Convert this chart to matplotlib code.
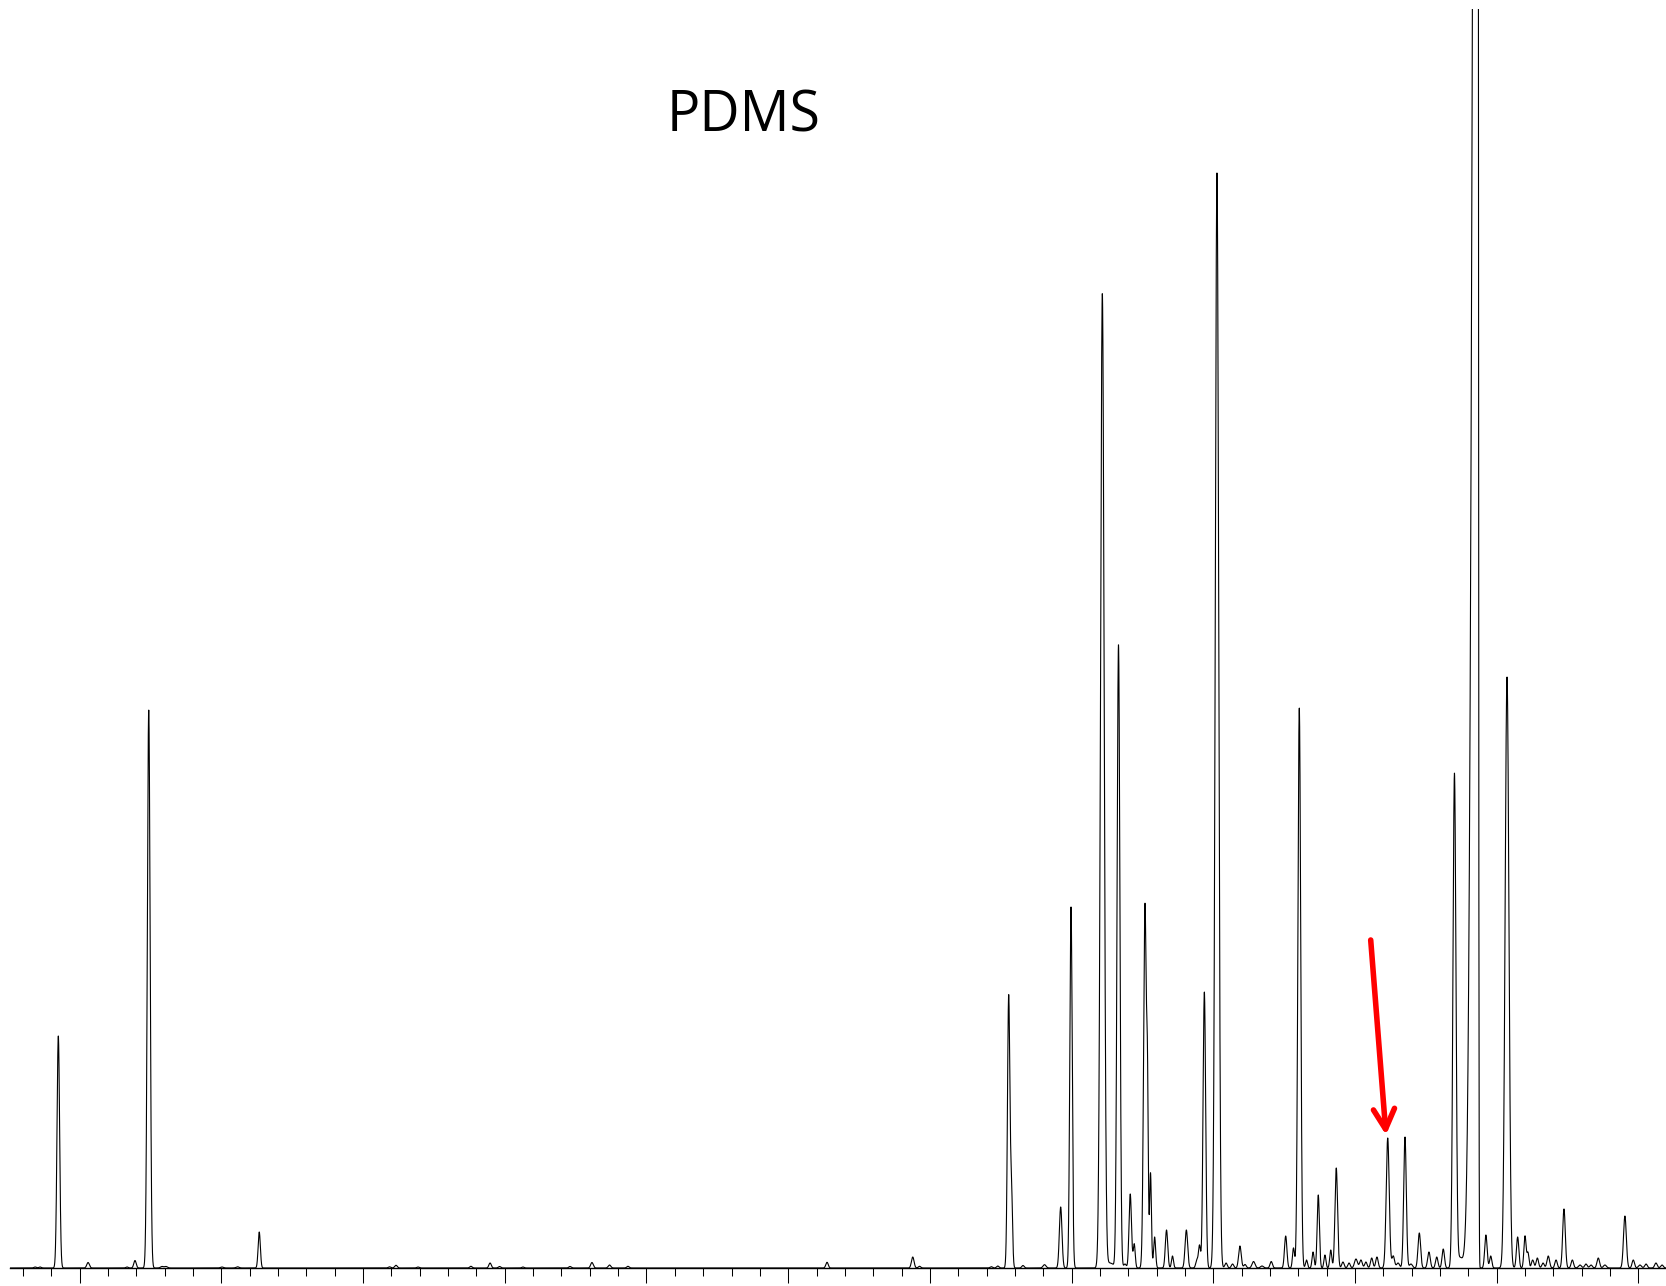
import numpy as np
import matplotlib
matplotlib.use("Agg")
import matplotlib.pyplot as plt
from matplotlib.ticker import MultipleLocator, NullFormatter

# ---- data (retention time in min, abundance in arbitrary units) ----
peak_rt = [0.685, 0.720, 0.849, 1.059, 1.334, 1.390, 1.487, 1.581, 1.609, 2.004,
           2.114, 2.267, 3.186, 3.232, 3.387, 3.761, 3.896, 3.963, 4.128, 4.460,
           4.615, 4.739, 4.869, 6.274, 6.879, 6.927, 7.433, 7.479,
           7.556, 7.576, 7.657, 7.809, 7.923, 7.996, 8.217, 8.271, 8.331, 8.377,
           8.414, 8.442, 8.518, 8.536, 8.557, 8.586, 8.670, 8.712, 8.810, 8.885,
           8.903, 8.937, 9.026, 9.090, 9.136, 9.188, 9.224, 9.284, 9.344, 9.409,
           9.511, 9.566, 9.607, 9.658, 9.704, 9.741, 9.788, 9.829, 9.868, 9.915,
           9.958, 10.007, 10.042, 10.077, 10.118, 10.155, 10.231, 10.270, 10.304,
           10.353, 10.395, 10.454, 10.522, 10.577, 10.623, 10.702, 10.741, 10.924,
           10.958, 11.073, 11.148, 11.200, 11.221, 11.254, 11.287, 11.327, 11.364,
           11.419, 11.475, 11.534, 11.588, 11.630, 11.666, 11.717, 11.764, 11.905,
           11.964, 12.011, 12.054, 12.124, 12.167]
peak_height = [1, 1, 232, 5.5, 1, 7.5, 558, 1.5, 1.5, 1,
               1.2, 36, 1.2, 2.7, 1, 1.7, 5, 1.5, 1, 1.5,
               5.5, 3, 1.7, 5.7, 11, 1.7, 1.3, 2,
               272, 75, 2.5, 3.3, 61, 361, 974, 5, 623, 4,
               74, 24, 364, 145, 95, 31, 38, 12, 38, 8,
               22, 276, 1095, 5, 4, 22, 3.5, 6.5, 2, 6.5,
               32, 20, 560, 8, 16, 73, 13, 18, 100, 6,
               5, 9, 8, 6, 10, 11, 130, 12, 5,
               131, 4, 35, 16, 11, 19, 494, 10, 33,
               12, 591, 31, 32, 15, 8, 10, 5, 12,
               8, 59, 8, 3, 4, 3, 10, 3, 52,
               8, 3, 4, 5, 3]
peak_width = [0.0085, 0.0085, 0.0092, 0.0092, 0.0085, 0.0085, 0.0099, 0.0106, 0.0106, 0.0106,
              0.0106, 0.0078, 0.0085, 0.0092, 0.0085, 0.0085, 0.0085, 0.0085, 0.0085, 0.0085,
              0.0092, 0.0092, 0.0085, 0.0085, 0.0092, 0.0085, 0.0085, 0.0085,
              0.0085, 0.0071, 0.0085, 0.0106, 0.0092, 0.0085, 0.0127, 0.0247, 0.0099, 0.0085,
              0.0085, 0.0071, 0.0099, 0.0056, 0.0064, 0.0071, 0.0085, 0.0071, 0.0092, 0.0085,
              0.0071, 0.0092, 0.0120, 0.0085, 0.0085, 0.0092, 0.0085, 0.0106, 0.0106, 0.0085,
              0.0085, 0.0071, 0.0099, 0.0071, 0.0071, 0.0078, 0.0071, 0.0071, 0.0092, 0.0085,
              0.0085, 0.0106, 0.0092, 0.0085, 0.0085, 0.0085, 0.0106, 0.0092, 0.0106,
              0.0092, 0.0106, 0.0092, 0.0092, 0.0085, 0.0085, 0.0106, 0.0176, 0.0085,
              0.0078, 0.0134, 0.0085, 0.0078, 0.0071, 0.0085, 0.0085, 0.0085, 0.0092,
              0.0085, 0.0092, 0.0085, 0.0106, 0.0092, 0.0092, 0.0092, 0.0106, 0.0099,
              0.0085, 0.0106, 0.0092, 0.0092, 0.0092]

# overloaded (fronting) main peak
big_rt = 10.866
big_height = 2750
big_sigma_left = 0.030
big_sigma_right = 0.0042

arrow_rt = 10.231
arrow_height = 130

title = "PDMS"

# ---- build trace ----
t = np.arange(0.50, 12.20, 0.0004)
signal = np.zeros_like(t)
for rt, h, w in zip(peak_rt, peak_height, peak_width):
    signal += h * np.exp(-0.5 * ((t - rt) / w) ** 2)
sig = np.where(t < big_rt, big_sigma_left, big_sigma_right)
signal += big_height * np.exp(-0.5 * ((t - big_rt) / sig) ** 2)

# ---- figure ----
W, H = 1666, 1286
fig = plt.figure(figsize=(W / 100, H / 100), dpi=100)
ax = fig.add_axes([10 / W, 18 / H, (W - 10) / W, (H - 18 - 9) / H])
ax.plot(t, signal, color="black", lw=0.8)
ax.set_xlim(0.508, 12.195)
ax.set_ylim(0, 1259)

for s in ("top", "right", "left"):
    ax.spines[s].set_visible(False)
ax.spines["bottom"].set_linewidth(1.0)
ax.set_yticks([])
ax.xaxis.set_major_locator(MultipleLocator(1))
ax.xaxis.set_minor_locator(MultipleLocator(0.2))
ax.xaxis.set_major_formatter(NullFormatter())
ax.tick_params(axis="x", which="major", direction="out", length=10.8, width=0.75)
ax.tick_params(axis="x", which="minor", direction="out", length=5.8, width=0.75)

ax.annotate("", xy=(arrow_rt - 0.012, arrow_height + 3),
            xytext=(arrow_rt - 0.120, arrow_height + 198),
            arrowprops=dict(arrowstyle="->,head_length=0.72,head_width=0.38",
                            color="#ff0000", lw=4.0, mutation_scale=20,
                            shrinkA=0, shrinkB=0))

fig.text(744 / W, 1 - 131.7 / H, title, ha="center", va="baseline",
         fontsize=40, family=["Open Sans", "DejaVu Sans"], color="black")

fig.savefig("out.png", dpi=100)
